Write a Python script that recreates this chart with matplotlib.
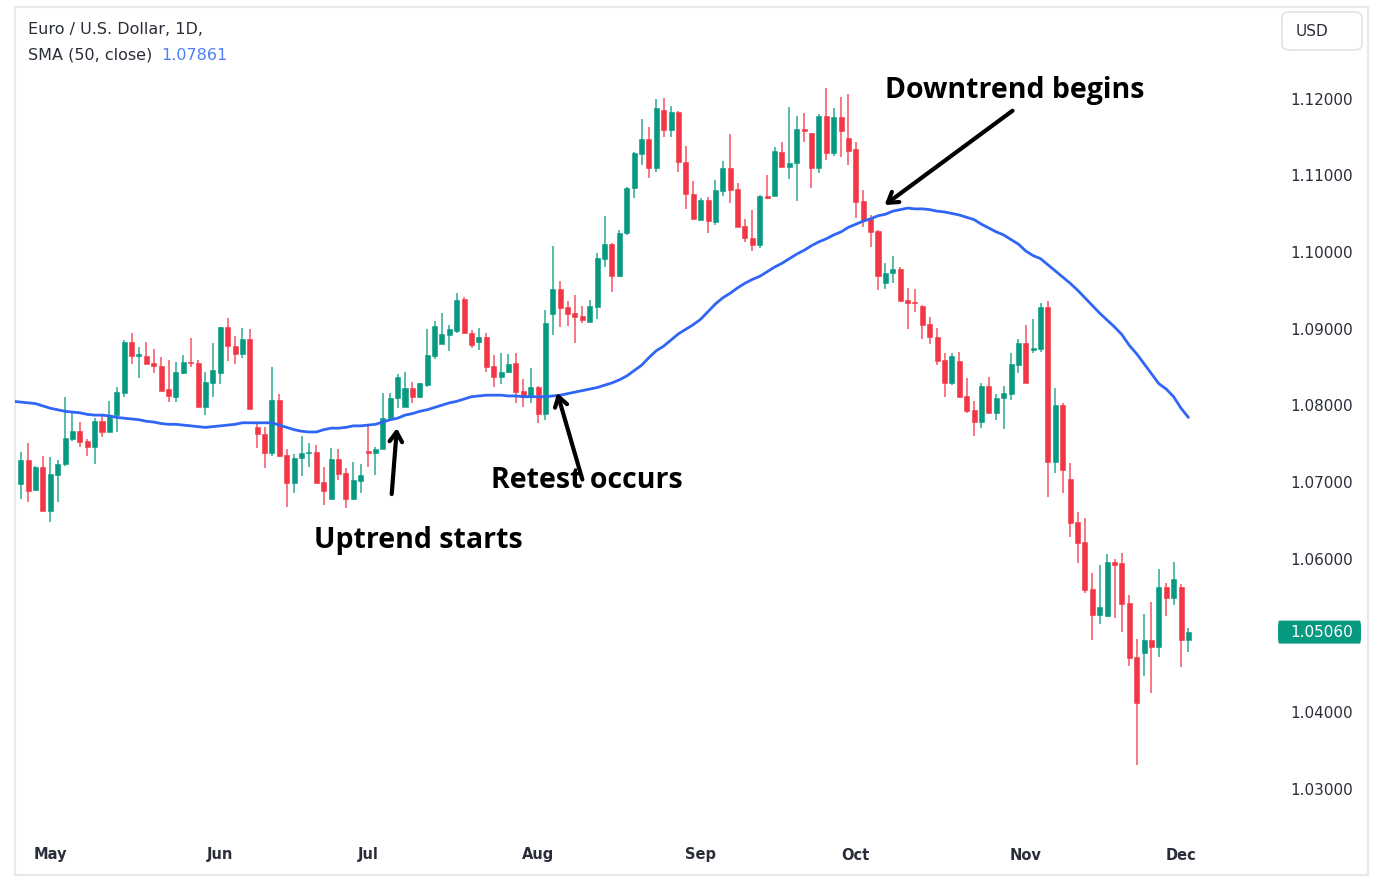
import matplotlib.pyplot as plt
import matplotlib.transforms as mtransforms
from matplotlib.patches import FancyBboxPatch

# EUR/USD daily candles
opens = [1.0699, 1.0730, 1.0691, 1.0721, 1.0664, 1.0711, 1.0725, 1.0758, 1.0768, 1.0755,
         1.0747, 1.0781, 1.0767, 1.0789, 1.0818, 1.0884, 1.0866, 1.0866, 1.0857, 1.0853,
         1.0823, 1.0813, 1.0844, 1.0858, 1.0857, 1.0800, 1.0831, 1.0844, 1.0904, 1.0879,
         1.0869, 1.0888, 1.0774, 1.0764, 1.0740, 1.0809, 1.0737, 1.0700, 1.0733, 1.0740,
         1.0741, 1.0702, 1.0680, 1.0732, 1.0714, 1.0680, 1.0703, 1.0742, 1.0740, 1.0745,
         1.0785, 1.0811, 1.0800, 1.0824, 1.0813, 1.0828, 1.0866, 1.0882, 1.0894, 1.0899,
         1.0940, 1.0896, 1.0884, 1.0891, 1.0853, 1.0839, 1.0845, 1.0857, 1.0820, 1.0814,
         1.0826, 1.0790, 1.0921, 1.0954, 1.0930, 1.0922, 1.0918, 1.0910, 1.0930, 1.0993,
         1.1012, 1.0970, 1.1026, 1.1085, 1.1130, 1.1149, 1.1111, 1.1187, 1.1161, 1.1184,
         1.1119, 1.1077, 1.1043, 1.1070, 1.1041, 1.1081, 1.1111, 1.1084, 1.1036, 1.1020,
         1.1011, 1.1075, 1.1075, 1.1132, 1.1113, 1.1118, 1.1162, 1.1157, 1.1111, 1.1179,
         1.1131, 1.1178, 1.1150, 1.1136, 1.1068, 1.1045, 1.1029, 1.0961, 1.0974, 1.0980,
         1.0939, 1.0936, 1.0931, 1.0908, 1.0891, 1.0861, 1.0831, 1.0860, 1.0814, 1.0796,
         1.0780, 1.0827, 1.0792, 1.0811, 1.0817, 1.0854, 1.0883, 1.0874, 1.0875, 1.0930,
         1.0728, 1.0802, 1.0706, 1.0650, 1.0623, 1.0562, 1.0528, 1.0527, 1.0597, 1.0596,
         1.0544, 1.0473, 1.0479, 1.0496, 1.0487, 1.0565, 1.0550, 1.0565, 1.0496]
highs = [1.0741, 1.0753, 1.0723, 1.0736, 1.0734, 1.0730, 1.0813, 1.0792, 1.0780, 1.0758,
         1.0785, 1.0790, 1.0807, 1.0826, 1.0887, 1.0896, 1.0878, 1.0884, 1.0875, 1.0865,
         1.0861, 1.0858, 1.0867, 1.0890, 1.0861, 1.0845, 1.0883, 1.0904, 1.0916, 1.0892,
         1.0903, 1.0901, 1.0780, 1.0774, 1.0852, 1.0817, 1.0745, 1.0738, 1.0762, 1.0753,
         1.0750, 1.0721, 1.0746, 1.0745, 1.0720, 1.0728, 1.0725, 1.0777, 1.0747, 1.0818,
         1.0818, 1.0843, 1.0845, 1.0832, 1.0831, 1.0901, 1.0912, 1.0922, 1.0907, 1.0948,
         1.0943, 1.0900, 1.0903, 1.0896, 1.0867, 1.0870, 1.0869, 1.0870, 1.0836, 1.0850,
         1.0827, 1.0926, 1.1010, 1.0964, 1.0938, 1.0946, 1.0931, 1.0939, 1.1000, 1.1049,
         1.1013, 1.1030, 1.1087, 1.1132, 1.1175, 1.1165, 1.1201, 1.1203, 1.1192, 1.1186,
         1.1140, 1.1094, 1.1072, 1.1074, 1.1096, 1.1120, 1.1156, 1.1092, 1.1045, 1.1057,
         1.1076, 1.1102, 1.1139, 1.1145, 1.1191, 1.1179, 1.1183, 1.1157, 1.1182, 1.1216,
         1.1190, 1.1204, 1.1208, 1.1145, 1.1083, 1.1050, 1.1030, 1.0987, 1.0997, 1.0982,
         1.0955, 1.0954, 1.0933, 1.0917, 1.0903, 1.0870, 1.0870, 1.0871, 1.0837, 1.0807,
         1.0831, 1.0839, 1.0817, 1.0827, 1.0870, 1.0888, 1.0907, 1.0914, 1.0935, 1.0938,
         1.0824, 1.0805, 1.0727, 1.0663, 1.0655, 1.0583, 1.0594, 1.0608, 1.0601, 1.0609,
         1.0554, 1.0497, 1.0530, 1.0545, 1.0588, 1.0570, 1.0597, 1.0569, 1.0511]
lows = [1.0680, 1.0676, 1.0690, 1.0664, 1.0650, 1.0676, 1.0723, 1.0755, 1.0747, 1.0736,
        1.0725, 1.0760, 1.0767, 1.0767, 1.0813, 1.0856, 1.0837, 1.0856, 1.0844, 1.0820,
        1.0806, 1.0806, 1.0843, 1.0852, 1.0800, 1.0789, 1.0813, 1.0830, 1.0860, 1.0856,
        1.0864, 1.0797, 1.0746, 1.0720, 1.0736, 1.0734, 1.0669, 1.0687, 1.0710, 1.0721,
        1.0700, 1.0672, 1.0680, 1.0704, 1.0668, 1.0678, 1.0687, 1.0721, 1.0711, 1.0745,
        1.0783, 1.0798, 1.0800, 1.0805, 1.0811, 1.0826, 1.0862, 1.0882, 1.0873, 1.0896,
        1.0895, 1.0877, 1.0874, 1.0845, 1.0826, 1.0830, 1.0844, 1.0805, 1.0800, 1.0805,
        1.0779, 1.0783, 1.0894, 1.0904, 1.0905, 1.0883, 1.0909, 1.0910, 1.0914, 1.0982,
        1.0950, 1.0969, 1.1024, 1.1072, 1.1115, 1.1098, 1.1106, 1.1152, 1.1152, 1.1106,
        1.1058, 1.1045, 1.1043, 1.1027, 1.1037, 1.1075, 1.1066, 1.1034, 1.1015, 1.1003,
        1.1007, 1.1071, 1.1075, 1.1113, 1.1097, 1.1068, 1.1145, 1.1085, 1.1105, 1.1122,
        1.1127, 1.1126, 1.1115, 1.1046, 1.1034, 1.1008, 1.0952, 1.0954, 1.0961, 1.0938,
        1.0901, 1.0924, 1.0888, 1.0882, 1.0854, 1.0813, 1.0828, 1.0813, 1.0792, 1.0762,
        1.0772, 1.0792, 1.0783, 1.0771, 1.0809, 1.0844, 1.0831, 1.0870, 1.0871, 1.0682,
        1.0714, 1.0687, 1.0630, 1.0596, 1.0557, 1.0496, 1.0517, 1.0526, 1.0524, 1.0506,
        1.0462, 1.0333, 1.0449, 1.0427, 1.0473, 1.0527, 1.0541, 1.0460, 1.0480]
closes = [1.0730, 1.0690, 1.0721, 1.0664, 1.0712, 1.0725, 1.0759, 1.0768, 1.0754, 1.0747,
          1.0781, 1.0767, 1.0789, 1.0819, 1.0884, 1.0866, 1.0869, 1.0856, 1.0853, 1.0820,
          1.0814, 1.0845, 1.0858, 1.0857, 1.0800, 1.0832, 1.0848, 1.0904, 1.0879, 1.0869,
          1.0888, 1.0797, 1.0764, 1.0740, 1.0809, 1.0736, 1.0700, 1.0733, 1.0740, 1.0741,
          1.0700, 1.0690, 1.0732, 1.0712, 1.0680, 1.0704, 1.0711, 1.0740, 1.0745, 1.0785,
          1.0811, 1.0839, 1.0824, 1.0813, 1.0831, 1.0867, 1.0905, 1.0895, 1.0901, 1.0939,
          1.0896, 1.0880, 1.0891, 1.0852, 1.0839, 1.0845, 1.0856, 1.0819, 1.0813, 1.0826,
          1.0790, 1.0909, 1.0954, 1.0929, 1.0921, 1.0917, 1.0913, 1.0931, 1.0994, 1.1012,
          1.0970, 1.1027, 1.1085, 1.1131, 1.1149, 1.1111, 1.1190, 1.1161, 1.1184, 1.1119,
          1.1077, 1.1045, 1.1070, 1.1042, 1.1083, 1.1111, 1.1083, 1.1034, 1.1020, 1.1011,
          1.1075, 1.1072, 1.1134, 1.1113, 1.1118, 1.1162, 1.1159, 1.1111, 1.1179, 1.1131,
          1.1178, 1.1159, 1.1134, 1.1067, 1.1043, 1.1028, 1.0970, 1.0974, 1.0980, 1.0938,
          1.0935, 1.0935, 1.0907, 1.0891, 1.0860, 1.0831, 1.0866, 1.0813, 1.0794, 1.0780,
          1.0827, 1.0792, 1.0811, 1.0818, 1.0856, 1.0883, 1.0831, 1.0877, 1.0930, 1.0728,
          1.0802, 1.0717, 1.0648, 1.0622, 1.0561, 1.0528, 1.0539, 1.0597, 1.0594, 1.0543,
          1.0472, 1.0414, 1.0496, 1.0487, 1.0565, 1.0550, 1.0575, 1.0496, 1.0506]

# 50-day SMA, first value is one bar before the first candle
sma50 = [1.0807, 1.0806, 1.0805, 1.0804, 1.0801, 1.0798, 1.0796, 1.0794, 1.0793, 1.0792,
         1.0790, 1.0789, 1.0789, 1.0788, 1.0786, 1.0785, 1.0784, 1.0783, 1.0781, 1.0780,
         1.0778, 1.0777, 1.0777, 1.0776, 1.0775, 1.0774, 1.0773, 1.0774, 1.0775, 1.0776,
         1.0777, 1.0779, 1.0779, 1.0779, 1.0779, 1.0779, 1.0776, 1.0773, 1.0770, 1.0768,
         1.0767, 1.0767, 1.0770, 1.0772, 1.0772, 1.0773, 1.0775, 1.0775, 1.0776, 1.0777,
         1.0780, 1.0783, 1.0785, 1.0789, 1.0791, 1.0794, 1.0796, 1.0799, 1.0802, 1.0805,
         1.0807, 1.0810, 1.0813, 1.0814, 1.0815, 1.0815, 1.0815, 1.0814, 1.0814, 1.0813,
         1.0813, 1.0813, 1.0813, 1.0814, 1.0815, 1.0817, 1.0819, 1.0821, 1.0823, 1.0825,
         1.0828, 1.0831, 1.0835, 1.0840, 1.0847, 1.0854, 1.0864, 1.0873, 1.0879, 1.0887,
         1.0895, 1.0901, 1.0907, 1.0914, 1.0924, 1.0934, 1.0942, 1.0948, 1.0955, 1.0961,
         1.0966, 1.0970, 1.0976, 1.0982, 1.0987, 1.0993, 1.0999, 1.1004, 1.1010, 1.1015,
         1.1019, 1.1024, 1.1028, 1.1034, 1.1038, 1.1042, 1.1045, 1.1049, 1.1051, 1.1055,
         1.1057, 1.1059, 1.1058, 1.1058, 1.1057, 1.1055, 1.1054, 1.1052, 1.1050, 1.1047,
         1.1044, 1.1038, 1.1033, 1.1028, 1.1024, 1.1018, 1.1012, 1.1003, 1.0997, 1.0993,
         1.0985, 1.0977, 1.0969, 1.0961, 1.0952, 1.0942, 1.0932, 1.0922, 1.0913, 1.0904,
         1.0894, 1.0880, 1.0869, 1.0856, 1.0843, 1.0830, 1.0823, 1.0813, 1.0798, 1.0786]

month_labels = ['May', 'Jun', 'Jul', 'Aug', 'Sep', 'Oct', 'Nov', 'Dec']
month_bars = [4, 27, 47, 70, 92, 113, 136, 157]
# 1.05 is hidden behind the last-price tag
price_ticks = [1.03, 1.04, 1.06, 1.07, 1.08, 1.09, 1.10, 1.11, 1.12]
last_price = 1.05060
last_sma = 1.07861

GREEN = '#089981'
RED = '#f23645'
BLUE = '#2f66f5'
TXT = '#2a2e39'

W, H = 1384, 894
fig = plt.figure(figsize=(W / 100, H / 100), dpi=100)
fig.patch.set_facecolor('white')
ax = fig.add_axes([15 / W, 19 / H, 1353 / W, 868 / H])
for s in ax.spines.values():
    s.set_color('#e6e8ee')
    s.set_linewidth(1.5)
ax.set_xticks([])
ax.set_yticks([])
ax.set_xlim(-0.77, 182.3)
ax.set_ylim(1.01892, 1.13213)

# candles
for i in range(len(opens)):
    o, h, l, c = opens[i], highs[i], lows[i], closes[i]
    col = GREEN if c >= o else RED
    ax.vlines(i, l, h, color=col, lw=1.1, alpha=0.85, zorder=2)
    ax.bar(i, max(abs(c - o), 0.00008), bottom=min(o, c), width=0.68,
           color=col, edgecolor=col, linewidth=0.4, zorder=3)

# SMA 50
ax.plot(range(-1, len(sma50) - 1), sma50, color=BLUE, lw=2.0, zorder=4,
        solid_capstyle='round')

# price scale labels
ytr = mtransforms.blended_transform_factory(ax.transAxes, ax.transData)
xr = (1353 - 15) / 1353
for v in price_ticks:
    ax.text(xr, v, f'{v:.5f}', ha='right', va='center', transform=ytr,
            fontsize=11, color=TXT)

# last price tag
ax.add_patch(FancyBboxPatch(((1278 - 15) / 1353, last_price - 0.00150), 83 / 1353, 0.0030,
                            boxstyle='round,pad=0,rounding_size=0.001',
                            transform=ytr, facecolor=GREEN, edgecolor='none', zorder=5))
ax.text(xr, last_price, f'{last_price:.5f}', ha='right', va='center', transform=ytr,
        fontsize=11, color='white', zorder=6)

# month labels
xtr = mtransforms.blended_transform_factory(ax.transData, ax.transAxes)
for lab, b in zip(month_labels, month_bars):
    ax.text(b, 20 / 868, lab, ha='center', va='center', transform=xtr,
            fontsize=10.5, fontweight='bold', color=TXT)

# header
fig.text(28 / W, 1 - 30 / H, 'Euro / U.S. Dollar, 1D,', fontsize=11.5, color=TXT,
         va='center', ha='left')
fig.text(28 / W, 1 - 55 / H, 'SMA (50, close)', fontsize=11.5, color=TXT,
         va='center', ha='left')
fig.text(161 / W, 1 - 55 / H, f'{last_sma:.5f}', fontsize=11.5, color='#4d7ff7',
         va='center', ha='left')

# currency box
fig.patches.append(FancyBboxPatch((1282 / W, 1 - 50 / H), 80 / W, 38 / H,
                                  boxstyle='round,pad=0,rounding_size=0.006',
                                  transform=fig.transFigure, facecolor='white',
                                  edgecolor='#e0e3eb', lw=1.2))
fig.text(1312 / W, 1 - 31 / H, 'USD', fontsize=11, color=TXT, ha='center', va='center')

# annotations
afont = dict(family='Open Sans', fontweight='bold', fontsize=20.5, color='black')
arrow = dict(arrowstyle='->,head_length=0.7,head_width=0.45', color='black', lw=3,
             shrinkA=0, shrinkB=0)
ax.annotate('', xy=(116.9, 1.1063), xytext=(134.2, 1.1186), arrowprops=arrow, zorder=7)
ax.text(134.5, 1.1213, 'Downtrend begins', ha='center', va='center', **afont)
ax.annotate('', xy=(72.6, 1.0818), xytext=(76.0, 1.0705), arrowprops=arrow, zorder=7)
ax.text(76.6, 1.0704, 'Retest occurs', ha='center', va='center', **afont)
ax.annotate('', xy=(50.9, 1.0772), xytext=(50.2, 1.0686), arrowprops=arrow, zorder=7)
ax.text(53.8, 1.0625, 'Uptrend starts', ha='center', va='center', **afont)

fig.savefig('out.png', dpi=100, facecolor='white')
